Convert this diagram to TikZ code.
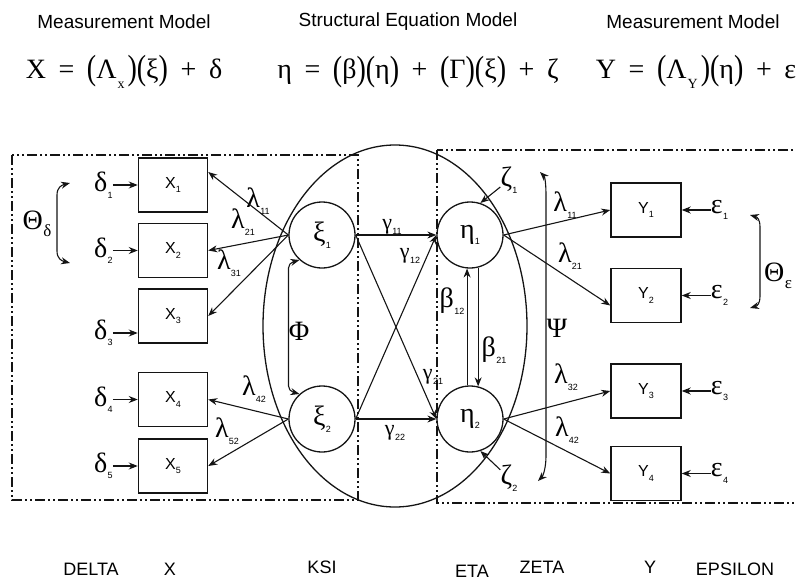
\documentclass[tikz,border=0pt]{standalone}
\usepackage{fontspec}
\setmainfont{Liberation Serif}
\setsansfont{Liberation Sans}
\usetikzlibrary{positioning,arrows.meta,calc}
\definecolor{InkBlack}{RGB}{20,20,20}
\newcommand{\glab}[2]{#1\kern0.3pt\raisebox{-0.5ex}{\fontsize{9}{9}\selectfont\sffamily #2}}
\newcommand{\msub}[1]{\kern1pt\raisebox{-0.8ex}{\fontsize{14}{14}\selectfont #1}\kern3pt}
\newcommand{\tallp}[1]{\raisebox{-0.12ex}{\scalebox{1}[1.25]{#1}}}
\newcommand{\eqsp}{\hspace{0.45em}}

\begin{document}
\begin{tikzpicture}[
  x=1pt, y=-1pt,
  font=\sffamily,
  heading/.style={font=\fontsize{19}{21}\selectfont\sffamily, inner sep=0pt},
  eqn/.style={font=\fontsize{28}{30}\selectfont\rmfamily, inner sep=0pt},
  footer/.style={font=\fontsize{18}{20}\selectfont\sffamily, inner sep=0pt},
  obs/.style={draw=InkBlack, line width=1.5pt, minimum width=69pt, minimum height=54pt, inner sep=0pt, font=\fontsize{16}{16}\selectfont\sffamily},
  latent/.style={draw=InkBlack, circle, line width=1.3pt, minimum size=66pt, inner sep=0pt, font=\fontsize{28}{28}\selectfont\rmfamily},
  greek/.style={inner sep=0pt, font=\fontsize{28}{28}\selectfont\rmfamily},
  small greek/.style={inner sep=0pt, font=\fontsize{22}{22}\selectfont\rmfamily},
  region/.style={draw=InkBlack, line width=1.4pt, dash pattern=on 10pt off 3pt on 2pt off 3pt on 2pt off 3pt},
  arrow/.style={-{Stealth[length=9pt,width=7pt]}, line width=1.1pt, color=InkBlack},
  biarrow/.style={{Stealth[length=9pt,width=7pt]}-{Stealth[length=9pt,width=7pt]}, line width=1.1pt, color=InkBlack}
]
\useasboundingbox (0,0) rectangle (796,582);

% headings and equations
\node[heading] (mm left) at (124,22) {Measurement Model};
\node[heading] (sem) at (408,22) {Structural Equation Model};
\node[heading] (mm right) at (693,22) {Measurement Model};
\node[eqn] (eq x) at (124,72) {X\eqsp=\eqsp\tallp{(}Λ\msub{x}\tallp{)}\tallp{(}ξ\tallp{)}\eqsp+\eqsp δ};
\node[eqn] (eq sem) at (418,72) {η\eqsp=\eqsp\tallp{(}β\tallp{)}\tallp{(}η\tallp{)}\eqsp+\eqsp\tallp{(}Γ\tallp{)}\tallp{(}ξ\tallp{)}\eqsp+\eqsp ζ};
\node[eqn] (eq y) at (696,72) {Y\eqsp=\eqsp\tallp{(}Λ\msub{Y}\tallp{)}\tallp{(}η\tallp{)}\eqsp+\eqsp ε};

% model regions
\draw[region] (12,155) rectangle (358,500);
\draw[region] (437,150) rectangle (800,503);
\draw[line width=1.3pt, InkBlack] (395,326) ellipse [x radius=132pt, y radius=181pt];

% latent variables
\node[latent] (ksi1) at (322,235) {\glab{ξ}{1}};
\node[latent] (ksi2) at (322,419) {\glab{ξ}{2}};
\node[latent] (eta1) at (470,235) {\glab{η}{1}};
\node[latent] (eta2) at (470,419) {\glab{η}{2}};

% observed x
\node[obs] (x1) at (173,185) {\glab{X}{1}};
\node[obs, below=10pt of x1] (x2) {\glab{X}{2}};
\node[obs, below=10pt of x2] (x3) {\glab{X}{3}};
\node[obs, below=28pt of x3] (x4) {\glab{X}{4}};
\node[obs, below=11pt of x4] (x5) {\glab{X}{5}};

% observed y
\node[obs, minimum width=70pt] (y1) at (646,210) {\glab{Y}{1}};
\node[obs, minimum width=70pt, below=30pt of y1] (y2) {\glab{Y}{2}};
\node[obs, minimum width=70pt, below=40pt of y2] (y3) {\glab{Y}{3}};
\node[obs, minimum width=70pt, below=27pt of y3] (y4) {\glab{Y}{4}};

% errors
\node[greek, left=25pt of x1] (d1) {\glab{δ}{1}};
\node[greek, left=25pt of x2] (d2) {\glab{δ}{2}};
\node[greek, left=25pt of x3, yshift=-17pt] (d3) {\glab{δ}{3}};
\node[greek, left=25pt of x4] (d4) {\glab{δ}{4}};
\node[greek, left=25pt of x5] (d5) {\glab{δ}{5}};
\node[greek, right=29pt of y1] (e1) {\glab{ε}{1}};
\node[greek, right=29pt of y2] (e2) {\glab{ε}{2}};
\node[greek, right=29pt of y3] (e3) {\glab{ε}{3}};
\node[greek, right=29pt of y4] (e4) {\glab{ε}{4}};
\node[greek] (zeta1) at (509,180) {\glab{ζ}{1}};
\node[greek] (zeta2) at (509,478) {\glab{ζ}{2}};

% parameter labels
\node[greek] (lx11) at (258,201) {\glab{λ}{11}};
\node[greek] (lx21) at (243,222) {\glab{λ}{21}};
\node[greek] (lx31) at (229,263) {\glab{λ}{31}};
\node[greek] (lx42) at (254,389) {\glab{λ}{42}};
\node[greek] (lx52) at (227,431) {\glab{λ}{52}};
\node[greek] (ly11) at (565,205) {\glab{λ}{11}};
\node[greek] (ly21) at (570,256) {\glab{λ}{21}};
\node[greek] (ly32) at (566,377) {\glab{λ}{32}};
\node[greek] (ly42) at (567,430) {\glab{λ}{42}};
\node[small greek] (g11) at (392,227) {\glab{γ}{11}};
\node[small greek] (g12) at (410,256) {\glab{γ}{12}};
\node[small greek] (g21) at (433,377) {\glab{γ}{21}};
\node[small greek] (g22) at (395,433) {\glab{γ}{22}};
\node[greek] (b12) at (452,301) {\glab{β}{12}};
\node[greek] (b21) at (494,350) {\glab{β}{21}};
\node[greek] (phi) at (299,331) {Φ};
\node[greek] (psi) at (557,328) {Ψ};
\node[greek] (thd) at (37,224) {Θ\kern0.5pt\raisebox{-0.5ex}{\fontsize{17}{17}\selectfont δ}};
\node[greek, anchor=west] (the) at (764,276) {Θ\kern0.5pt\raisebox{-0.5ex}{\fontsize{17}{17}\selectfont ε}};

% bottom captions
\node[footer] (lab delta) at (91,569) {DELTA};
\node[footer] (lab x) at (170,569) {X};
\node[footer] (lab ksi) at (322,567) {KSI};
\node[footer] (lab eta) at (472,571) {ETA};
\node[footer] (lab zeta) at (542,567) {ZETA};
\node[footer] (lab y) at (650,567) {Y};
\node[footer] (lab eps) at (735,569) {EPSILON};

% measurement arrows
\draw[arrow] (d1) -- (x1);
\draw[arrow] (d2) -- (x2);
\draw[arrow] (d3.east) -- (d3.east -| x3.west);
\draw[arrow] (d4) -- (x4);
\draw[arrow] (d5) -- (x5);
\draw[arrow] (ksi1.west) -- ($(x1.east)+(0,-13)$);
\draw[arrow] (ksi1.west) -- (x2.east);
\draw[arrow] (ksi1.west) -- (x3.east);
\draw[arrow] (ksi2.west) -- (x4.east);
\draw[arrow] (ksi2.west) -- (x5.east);
\draw[arrow] (e1) -- (y1);
\draw[arrow] (e2) -- (y2);
\draw[arrow] (e3) -- (y3);
\draw[arrow] (e4) -- (y4);
\draw[arrow] (eta1.east) -- (y1.west);
\draw[arrow] (eta1.east) -- ($(y2.west)+(0,10)$);
\draw[arrow] (eta2.east) -- (y3.west);
\draw[arrow] (eta2.east) -- (y4.west);

% structural arrows
\draw[arrow] (ksi1.east) -- (eta1.west);
\draw[arrow] (ksi2.east) -- (eta1.west);
\draw[arrow] (ksi1.east) -- (eta2.west);
\draw[arrow] (ksi2.east) -- (eta2.west);
\draw[arrow] (eta2.95) -- (eta1.-95);
\draw[arrow] (eta1.-76) -- (eta2.76);
\draw[arrow] (zeta1) -- (eta1.72);
\draw[arrow] (zeta2) -- (eta2.-72);

% covariances
\draw[biarrow, rounded corners=5pt] (ksi1.228) -- ++(-11,3) -- ($(ksi2.132)+(-11,-3)$) -- (ksi2.132);
\coordinate (psi top) at (540,172);
\coordinate (psi bot) at (538,481);
\draw[biarrow] (psi top) .. controls +(5,5) and +(0,-12) .. ++(6,24) -- ++(0,260) .. controls +(0,12) and +(5,-5) .. (psi bot);
\coordinate (thd top) at (70,183);
\coordinate (thd bot) at (70,263);
\draw[biarrow] (thd top) .. controls +(-8,2) and +(0,-8) .. ++(-13,12) -- ++(0,56) .. controls +(0,8) and +(-8,-2) .. (thd bot);
\coordinate (the top) at (750,215);
\coordinate (the bot) at (750,308);
\draw[biarrow] (the top) .. controls +(7,2) and +(0,-8) .. ++(10,12) -- ++(0,69) .. controls +(0,8) and +(7,-2) .. (the bot);
\end{tikzpicture}
\end{document}
